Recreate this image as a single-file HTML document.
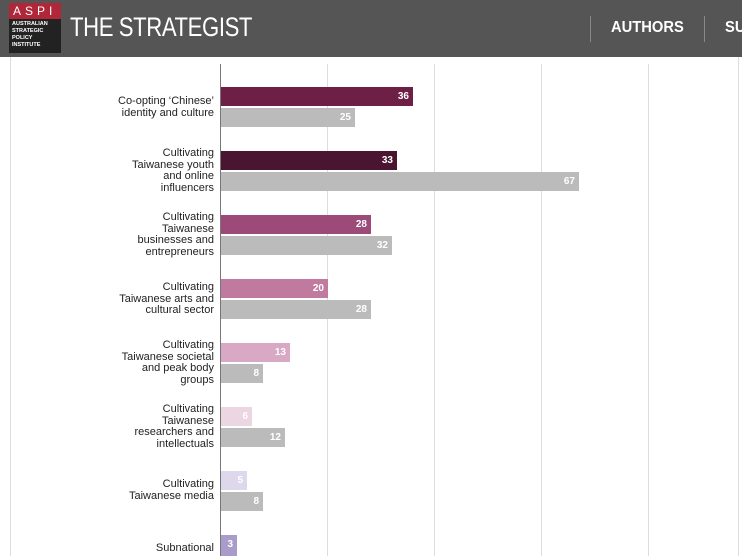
<!DOCTYPE html>
<html><head><style>
html,body{margin:0;width:742px;height:556px;overflow:hidden}
body{background:#fff;font-family:"Liberation Sans",Arial,sans-serif;position:relative}
.hdr{position:absolute;left:0;top:0;width:742px;height:57px;background:#555}
.logo{position:absolute;left:9px;top:3px;width:52px;height:50px;background:#222}
.logo .r{height:16px;background:#b0273a;color:#fff;font-size:12px;letter-spacing:4px;padding-left:4px;line-height:16px}
.logo .t{color:#fff;font-size:5.5px;font-weight:bold;line-height:7px;padding:2px 3px}
.title{position:absolute;left:70px;top:12px;color:#fff;font-size:27px;letter-spacing:-0.5px;transform:scaleX(0.82);transform-origin:left top;white-space:nowrap}
.nav{position:absolute;top:19px;color:#fff;font-weight:bold;font-size:16px;transform:scaleX(0.92);transform-origin:left top}
.sep{position:absolute;top:16px;width:1px;height:26px;background:#888}
.grid{position:absolute;top:64px;width:1px;height:492px;background:#ddd}
.bar{position:absolute;height:19px;color:#fff;font-size:10px;font-weight:bold;text-align:right;line-height:19px;box-sizing:border-box;padding-right:4px}
.lab{position:absolute;right:528px;text-align:right;font-size:11px;line-height:11.5px;color:#222}
</style></head><body>
<div class="hdr">
<div class="logo"><div class="r">ASPI</div><div class="t">AUSTRALIAN<br>STRATEGIC<br>POLICY<br>INSTITUTE</div></div>
<div class="title">THE STRATEGIST</div>
<div class="sep" style="left:590px"></div>
<div class="nav" style="left:611px">AUTHORS</div>
<div class="sep" style="left:704px"></div>
<div class="nav" style="left:725px">SU</div>
</div>
<div style="position:absolute;left:10px;top:57px;width:1px;height:499px;background:#ddd"></div>
<div style="position:absolute;left:738px;top:57px;width:1px;height:499px;background:#ddd"></div>
<div class="grid" style="left:327px"></div>
<div class="grid" style="left:434px"></div>
<div class="grid" style="left:541px"></div>
<div class="grid" style="left:648px"></div>
<div class="grid" style="left:220px;background:#777"></div>

<div class="lab" style="top:96px">Co-opting ‘Chinese’<br>identity and culture</div>
<div class="bar" style="left:221px;top:87px;width:192px;background:#6e1f45">36</div>
<div class="bar" style="left:221px;top:108px;width:134px;background:#bbb">25</div>

<div class="lab" style="top:148px">Cultivating<br>Taiwanese youth<br>and online<br>influencers</div>
<div class="bar" style="left:221px;top:151px;width:176px;background:#4a1530">33</div>
<div class="bar" style="left:221px;top:172px;width:358px;background:#bbb">67</div>

<div class="lab" style="top:212px">Cultivating<br>Taiwanese<br>businesses and<br>entrepreneurs</div>
<div class="bar" style="left:221px;top:215px;width:150px;background:#9c4a78">28</div>
<div class="bar" style="left:221px;top:236px;width:171px;background:#bbb">32</div>

<div class="lab" style="top:282px">Cultivating<br>Taiwanese arts and<br>cultural sector</div>
<div class="bar" style="left:221px;top:279px;width:107px;background:#c07aa0">20</div>
<div class="bar" style="left:221px;top:300px;width:150px;background:#bbb">28</div>

<div class="lab" style="top:340px">Cultivating<br>Taiwanese societal<br>and peak body<br>groups</div>
<div class="bar" style="left:221px;top:343px;width:69px;background:#d8a8c4">13</div>
<div class="bar" style="left:221px;top:364px;width:42px;background:#bbb">8</div>

<div class="lab" style="top:404px">Cultivating<br>Taiwanese<br>researchers and<br>intellectuals</div>
<div class="bar" style="left:221px;top:407px;width:31px;background:#ecd6e2">6</div>
<div class="bar" style="left:221px;top:428px;width:64px;background:#bbb">12</div>

<div class="lab" style="top:479px">Cultivating<br>Taiwanese media</div>
<div class="bar" style="left:221px;top:471px;width:26px;background:#ddd8ec">5</div>
<div class="bar" style="left:221px;top:492px;width:42px;background:#bbb">8</div>

<div class="lab" style="top:543px">Subnational</div>
<div class="bar" style="left:221px;top:535px;width:16px;height:21px;background:#a99cca">3</div>
</body></html>
